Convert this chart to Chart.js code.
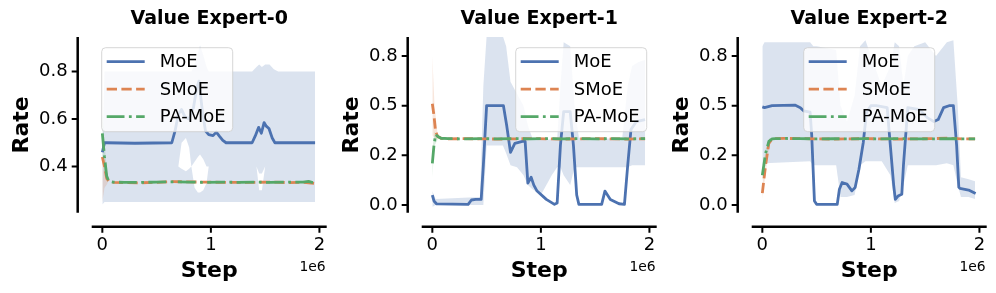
<!DOCTYPE html>
<html>
<head>
<meta charset="utf-8">
<script src="https://cdn.jsdelivr.net/npm/chart.js@4/dist/chart.umd.min.js"></script>
<style>
  body { margin: 0; background: #fff; }
  .panel { position: absolute; top: 0; width: 330px; height: 293px; }
</style>
</head>
<body>
<div class="panel" style="left:0px"><canvas id="c0" width="330" height="293"></canvas></div>
<div class="panel" style="left:330px"><canvas id="c1" width="330" height="293"></canvas></div>
<div class="panel" style="left:660px"><canvas id="c2" width="330" height="293"></canvas></div>
<script>
// steps are in units of 1e6
const titles = ['Value Expert-0', 'Value Expert-1', 'Value Expert-2'];
const methods = ['MoE', 'SMoE', 'PA-MoE'];
const xTicks = [0, 1, 2];
const xTickLabels = ['0', '1', '2'];
const yTicks0 = [0.4, 0.6, 0.8];
const yTickLabels0 = ['0.4', '0.6', '0.8'];
const yTicks12 = [0, 0.25, 0.5, 0.75];
const yTickLabels12 = ['0.0', '0.2', '0.5', '0.8'];

// ---- Value Expert-0 ----
const moeSteps0 = [0, 0.02, 0.04, 0.3, 0.64, 0.67, 0.7, 0.73, 0.76, 0.8, 0.84, 0.87, 0.89, 0.92, 0.95, 0.98, 1.02, 1.05, 1.08, 1.11, 1.14, 1.38, 1.41, 1.44, 1.465, 1.49, 1.51, 1.535, 1.565, 1.59, 1.96];
const moe0 = [0.46, 0.5, 0.5, 0.498, 0.5, 0.55, 0.62, 0.64, 0.61, 0.6, 0.65, 0.73, 0.76, 0.64, 0.55, 0.534, 0.53, 0.545, 0.527, 0.51, 0.5, 0.5, 0.53, 0.565, 0.54, 0.585, 0.57, 0.56, 0.52, 0.5, 0.5];
const bandSteps0 = [0, 0.02, 0.05, 0.66, 0.7, 0.73, 0.77, 0.8, 0.82, 0.85, 0.88, 0.9, 0.93, 0.96, 0.98, 1.02, 1.38, 1.42, 1.445, 1.47, 1.5, 1.54, 1.58, 1.62, 1.96];
const bandHi0 = [0.48, 0.8, 0.8, 0.8, 0.8, 0.8, 0.8, 0.8, 0.8, 0.83, 0.88, 0.91, 0.87, 0.82, 0.8, 0.8, 0.8, 0.82, 0.83, 0.82, 0.83, 0.83, 0.81, 0.8, 0.8];
const bandLo0 = [0.24, 0.25, 0.25, 0.25, 0.25, 0.25, 0.25, 0.25, 0.25, 0.25, 0.25, 0.25, 0.25, 0.25, 0.25, 0.25, 0.25, 0.25, 0.25, 0.25, 0.25, 0.25, 0.25, 0.25, 0.25];
// white holes inside the MoE band
const gapTop0 = [0.4, 0.4, 0.4, 0.4, 0.4, 0.5, 0.52, 0.48, 0.4, 0.42, 0.44, 0.45, 0.43, 0.4, 0.4, 0.4, 0.4, 0.4, 0.37, 0.37, 0.4, 0.4, 0.4, 0.4, 0.4];
const gapBottom0 = [0.4, 0.4, 0.4, 0.4, 0.4, 0.39, 0.38, 0.39, 0.4, 0.31, 0.29, 0.29, 0.3, 0.33, 0.4, 0.4, 0.4, 0.4, 0.3, 0.3, 0.4, 0.4, 0.4, 0.4, 0.4];
const baseSteps0 = [0, 0.02, 0.04, 0.06, 0.1, 0.2, 0.35, 0.5, 0.65, 0.8, 0.95, 1.1, 1.25, 1.4, 1.55, 1.7, 1.85, 1.9, 1.96];
const smoe0 = [0.44, 0.4, 0.35, 0.338, 0.333, 0.332, 0.331, 0.333, 0.336, 0.335, 0.334, 0.333, 0.333, 0.333, 0.334, 0.332, 0.333, 0.331, 0.328];
const pamoe0 = [0.54, 0.44, 0.36, 0.338, 0.334, 0.333, 0.333, 0.334, 0.335, 0.334, 0.333, 0.334, 0.333, 0.334, 0.333, 0.334, 0.334, 0.337, 0.33];
const startSteps0 = [0, 0.02, 0.05];
const smoeLo0 = [0.25, 0.31, 0.33];
const smoeHi0 = [0.45, 0.42, 0.34];
const pamoeLo0 = [0.45, 0.38, 0.33];
const pamoeHi0 = [0.62, 0.5, 0.34];

// ---- Value Expert-1 ----
const moeSteps1 = [0, 0.015, 0.04, 0.33, 0.36, 0.4, 0.45, 0.47, 0.5, 0.655, 0.685, 0.72, 0.76, 0.83, 0.855, 0.88, 0.91, 0.935, 0.965, 1.05, 1.125, 1.15, 1.18, 1.21, 1.27, 1.3, 1.33, 1.35, 1.56, 1.59, 1.64, 1.72, 1.77, 1.8, 1.83, 1.88, 1.96];
const moe1 = [0.05, 0.02, 0.005, 0.003, 0.025, 0.028, 0.028, 0.2, 0.5, 0.5, 0.4, 0.265, 0.31, 0.32, 0.32, 0.11, 0.14, 0.1, 0.07, 0.028, 0.003, 0.01, 0.3, 0.47, 0.47, 0.3, 0.05, 0.003, 0.003, 0.07, 0.028, 0.006, 0.003, 0.2, 0.38, 0.42, 0.43];
const bandSteps1 = [0, 0.03, 0.44, 0.47, 0.5, 0.65, 0.68, 0.72, 0.78, 0.84, 0.88, 0.92, 1.0, 1.1, 1.15, 1.18, 1.21, 1.27, 1.31, 1.35, 1.5, 1.75, 1.8, 1.84, 1.9, 1.96];
const bandHi1 = [0.07, 0.03, 0.04, 0.6, 0.85, 0.85, 0.8, 0.62, 0.56, 0.5, 0.4, 0.34, 0.33, 0.33, 0.33, 0.6, 0.82, 0.8, 0.5, 0.34, 0.33, 0.34, 0.6, 0.7, 0.72, 0.73];
const bandLo1 = [-0.01, 0.0, 0.0, 0.0, 0.3, 0.3, 0.26, 0.2, 0.19, 0.15, 0.1, 0.08, 0.05, 0.15, 0.19, 0.19, 0.15, 0.1, 0.19, 0.19, 0.19, 0.19, 0.19, 0.2, 0.2, 0.2];
const baseSteps1 = [0, 0.015, 0.03, 0.05, 0.08, 0.15, 0.3, 0.45, 0.6, 0.75, 0.9, 1.05, 1.2, 1.35, 1.5, 1.65, 1.8, 1.96];
const smoe1 = [0.51, 0.45, 0.37, 0.345, 0.336, 0.333, 0.334, 0.333, 0.332, 0.333, 0.334, 0.333, 0.332, 0.333, 0.334, 0.333, 0.332, 0.333];
const pamoe1 = [0.21, 0.3, 0.355, 0.345, 0.336, 0.334, 0.333, 0.334, 0.333, 0.334, 0.333, 0.334, 0.333, 0.334, 0.333, 0.334, 0.333, 0.334];
const startSteps1 = [0, 0.02, 0.05];
const smoeLo1 = [0.35, 0.34, 0.33];
const smoeHi1 = [0.75, 0.5, 0.35];
const pamoeLo1 = [0.14, 0.3, 0.33];
const pamoeHi1 = [0.28, 0.37, 0.34];

// ---- Value Expert-2 ----
const moeSteps2 = [0, 0.02, 0.09, 0.3, 0.35, 0.38, 0.44, 0.455, 0.48, 0.5, 0.69, 0.71, 0.735, 0.78, 0.825, 0.855, 0.89, 0.93, 0.96, 1.0, 1.05, 1.15, 1.21, 1.225, 1.25, 1.285, 1.3, 1.34, 1.45, 1.52, 1.58, 1.62, 1.67, 1.72, 1.76, 1.79, 1.81, 1.82, 1.9, 1.965];
const moe2 = [0.494, 0.49, 0.5, 0.503, 0.49, 0.474, 0.467, 0.35, 0.02, 0.003, 0.003, 0.079, 0.113, 0.105, 0.071, 0.088, 0.18, 0.315, 0.467, 0.5, 0.5, 0.49, 0.1, 0.028, 0.045, 0.054, 0.2, 0.49, 0.48, 0.44, 0.42, 0.43, 0.49, 0.5, 0.5, 0.3, 0.09, 0.083, 0.075, 0.058];
const bandSteps2 = [0, 0.02, 0.44, 0.47, 0.5, 0.68, 0.72, 0.78, 0.85, 0.9, 0.95, 1.0, 1.1, 1.18, 1.22, 1.26, 1.3, 1.34, 1.4, 1.5, 1.6, 1.7, 1.76, 1.8, 1.83, 1.9, 1.96];
const bandHi2 = [0.8, 0.82, 0.82, 0.8, 0.8, 0.78, 0.5, 0.42, 0.55, 0.8, 0.83, 0.75, 0.6, 0.7, 0.82, 0.8, 0.6, 0.75, 0.8, 0.82, 0.75, 0.82, 0.83, 0.5, 0.14, 0.13, 0.12];
const bandLo2 = [0.2, 0.21, 0.22, 0.2, 0.2, 0.2, 0.04, 0.04, 0.05, 0.2, 0.22, 0.22, 0.22, 0.15, 0.01, 0.02, 0.1, 0.2, 0.2, 0.2, 0.2, 0.21, 0.2, 0.1, 0.04, 0.04, 0.03];
const baseSteps2 = [0, 0.03, 0.06, 0.09, 0.12, 0.2, 0.35, 0.5, 0.65, 0.8, 0.95, 1.1, 1.25, 1.4, 1.55, 1.7, 1.85, 1.96];
const smoe2 = [0.06, 0.2, 0.31, 0.333, 0.334, 0.335, 0.334, 0.333, 0.332, 0.333, 0.334, 0.333, 0.332, 0.333, 0.334, 0.336, 0.333, 0.333];
const pamoe2 = [0.15, 0.26, 0.32, 0.333, 0.334, 0.335, 0.334, 0.333, 0.334, 0.333, 0.334, 0.333, 0.334, 0.333, 0.333, 0.334, 0.333, 0.333];
const startSteps2 = [0, 0.03, 0.07];
const smoeLo2 = [0.03, 0.16, 0.32];
const smoeHi2 = [0.1, 0.23, 0.34];
const pamoeLo2 = [0.12, 0.23, 0.32];
const pamoeHi2 = [0.18, 0.28, 0.34];

Chart.defaults.font.family = '"DejaVu Sans", sans-serif';
Chart.defaults.color = '#000';

const blue = '#4C72B0', orange = '#DD8452', green = '#55A868';
const blueFill = 'rgba(76,114,176,0.2)';
const orangeFill = 'rgba(221,132,82,0.2)';
const greenFill = 'rgba(85,168,104,0.2)';
const clear = 'rgba(0,0,0,0)';

function pts(xs, ys) {
  return xs.map((x, i) => ({ x: x, y: ys[i] }));
}

function lineSet(label, xs, ys, color, dash, order) {
  return {
    label: label, showInLegend: true, data: pts(xs, ys),
    borderColor: color, borderWidth: 2.8, borderDash: dash, borderJoinStyle: 'round',
    pointRadius: 0, fill: false, tension: 0, order: order
  };
}

// two invisible lines, the first one filled down to the second
function bandSets(xs, lo, hi, color, order) {
  return [
    { data: pts(xs, hi), borderColor: clear, borderWidth: 1, pointRadius: 0, fill: '+1', backgroundColor: color, order: order },
    { data: pts(xs, lo), borderColor: clear, borderWidth: 1, pointRadius: 0, fill: false, order: order }
  ];
}

// matplotlib-like offset spines and tick marks, plus the 1e6 offset text
const spines = {
  id: 'spines',
  afterDraw(chart) {
    const { ctx, chartArea: a, scales } = chart;
    const off = 14;
    ctx.save();
    ctx.strokeStyle = '#000';
    ctx.lineWidth = 2.5;
    ctx.beginPath();
    ctx.moveTo(a.left - off, a.top);
    ctx.lineTo(a.left - off, a.bottom);
    ctx.moveTo(a.left, a.bottom + off);
    ctx.lineTo(a.right, a.bottom + off);
    ctx.stroke();
    ctx.lineWidth = 2;
    ctx.beginPath();
    scales.y.ticks.forEach(t => {
      const p = scales.y.getPixelForValue(t.value);
      ctx.moveTo(a.left - off - 6, p);
      ctx.lineTo(a.left - off, p);
    });
    scales.x.ticks.forEach(t => {
      const p = scales.x.getPixelForValue(t.value);
      ctx.moveTo(p, a.bottom + off);
      ctx.lineTo(p, a.bottom + off + 6);
    });
    ctx.stroke();
    ctx.fillStyle = '#000';
    ctx.font = '13.9px "DejaVu Sans"';
    ctx.textAlign = 'right';
    ctx.textBaseline = 'middle';
    ctx.fillText('1e6', a.right - 1, 267);
    ctx.restore();
  }
};

// legend drawn inside the plot area, like matplotlib's
const insideLegend = {
  id: 'insideLegend',
  afterDatasetsDraw(chart, args, opts) {
    const { ctx, chartArea: a } = chart;
    const items = chart.data.datasets.filter(d => d.showInLegend);
    const w = 131, h = 84, r = 4;
    let left;
    if (opts.where === 'left') left = a.left + 10;
    else if (opts.where === 'right') left = a.right - 10 - w;
    else left = (a.left + a.right - w) / 2;
    const top = a.top + 10.7;
    ctx.save();
    ctx.beginPath();
    ctx.moveTo(left + r, top);
    ctx.lineTo(left + w - r, top);
    ctx.arcTo(left + w, top, left + w, top + r, r);
    ctx.lineTo(left + w, top + h - r);
    ctx.arcTo(left + w, top + h, left + w - r, top + h, r);
    ctx.lineTo(left + r, top + h);
    ctx.arcTo(left, top + h, left, top + h - r, r);
    ctx.lineTo(left, top + r);
    ctx.arcTo(left, top, left + r, top, r);
    ctx.closePath();
    ctx.fillStyle = 'rgba(255,255,255,0.8)';
    ctx.fill();
    ctx.strokeStyle = 'rgba(204,204,204,0.8)';
    ctx.lineWidth = 1;
    ctx.stroke();
    items.forEach((d, i) => {
      const y = top + 14 + i * 27.5;
      ctx.beginPath();
      ctx.setLineDash(d.borderDash || []);
      ctx.strokeStyle = d.borderColor;
      ctx.lineWidth = d.borderWidth;
      ctx.moveTo(left + 5, y);
      ctx.lineTo(left + 43, y);
      ctx.stroke();
      ctx.setLineDash([]);
      ctx.fillStyle = '#000';
      ctx.font = '18px "DejaVu Sans"';
      ctx.textAlign = 'left';
      ctx.textBaseline = 'middle';
      ctx.fillText(d.label, left + 58, y + 1);
    });
    ctx.restore();
  }
};

const smoeDash = [10.3, 4.4];
const pamoeDash = [17.8, 4.4, 2.8, 4.4];

const panels = [
  {
    yMin: 0.205, yMax: 0.946, yTicks: yTicks0, yLabels: yTickLabels0, where: 'left',
    moe: [moeSteps0, moe0], smoe: [baseSteps0, smoe0], pamoe: [baseSteps0, pamoe0],
    band: [bandSteps0, bandLo0, bandHi0], gap: [bandSteps0, gapBottom0, gapTop0],
    start: [startSteps0, smoeLo0, smoeHi0, pamoeLo0, pamoeHi0]
  },
  {
    yMin: -0.039, yMax: 0.846, yTicks: yTicks12, yLabels: yTickLabels12, where: 'right',
    moe: [moeSteps1, moe1], smoe: [baseSteps1, smoe1], pamoe: [baseSteps1, pamoe1],
    band: [bandSteps1, bandLo1, bandHi1], gap: null,
    start: [startSteps1, smoeLo1, smoeHi1, pamoeLo1, pamoeHi1]
  },
  {
    yMin: -0.039, yMax: 0.846, yTicks: yTicks12, yLabels: yTickLabels12, where: 'center',
    moe: [moeSteps2, moe2], smoe: [baseSteps2, smoe2], pamoe: [baseSteps2, pamoe2],
    band: [bandSteps2, bandLo2, bandHi2], gap: null,
    start: [startSteps2, smoeLo2, smoeHi2, pamoeLo2, pamoeHi2]
  }
];

panels.forEach((p, k) => {
  let datasets = [
    lineSet(methods[0], p.moe[0], p.moe[1], blue, [], 3),
    lineSet(methods[1], p.smoe[0], p.smoe[1], orange, smoeDash, 2),
    lineSet(methods[2], p.pamoe[0], p.pamoe[1], green, pamoeDash, 1)
  ];
  datasets = datasets.concat(bandSets(p.start[0], p.start[3], p.start[4], greenFill, 4));
  datasets = datasets.concat(bandSets(p.start[0], p.start[1], p.start[2], orangeFill, 5));
  if (p.gap) datasets = datasets.concat(bandSets(p.gap[0], p.gap[1], p.gap[2], '#ffffff', 6));
  datasets = datasets.concat(bandSets(p.band[0], p.band[1], p.band[2], blueFill, 7));

  new Chart(document.getElementById('c' + k), {
    type: 'line',
    data: { datasets: datasets },
    options: {
      responsive: false,
      devicePixelRatio: 1,
      animation: false,
      layout: { padding: { left: 0, right: 3.3, top: 0, bottom: 0 } },
      plugins: {
        legend: { display: false },
        tooltip: { enabled: false },
        title: {
          display: true, text: titles[k], color: '#000', fullSize: false,
          font: { size: 19, weight: 'bold' }, padding: { top: 8, bottom: 6.2 }
        },
        insideLegend: { where: p.where }
      },
      scales: {
        x: {
          type: 'linear', min: -0.098, max: 2.067, bounds: 'data',
          afterBuildTicks: s => { s.ticks = xTicks.map(v => ({ value: v })); },
          afterFit: s => { s.height = 80.3; },
          grid: { display: false, tickLength: 22 }, border: { display: false },
          ticks: {
            padding: 0, color: '#000', font: { size: 18 }, autoSkip: false, maxRotation: 0,
            callback: (v, i) => xTickLabels[i]
          },
          title: { display: true, text: 'Step', color: '#000', font: { size: 22, weight: 'bold' }, padding: { top: 0, bottom: 8.6 } }
        },
        y: {
          type: 'linear', min: p.yMin, max: p.yMax, bounds: 'data',
          afterBuildTicks: s => { s.ticks = p.yTicks.map(v => ({ value: v })); },
          afterFit: s => { s.width = 91.7; },
          grid: { display: false, tickLength: 24 }, border: { display: false },
          ticks: {
            padding: 0, color: '#000', font: { size: 18 }, autoSkip: false,
            callback: (v, i) => p.yLabels[i]
          },
          title: { display: true, text: 'Rate', color: '#000', font: { size: 22, weight: 'bold' }, padding: { top: 8.6, bottom: 0 } }
        }
      }
    },
    plugins: [spines, insideLegend]
  });
});
</script>
</body>
</html>
